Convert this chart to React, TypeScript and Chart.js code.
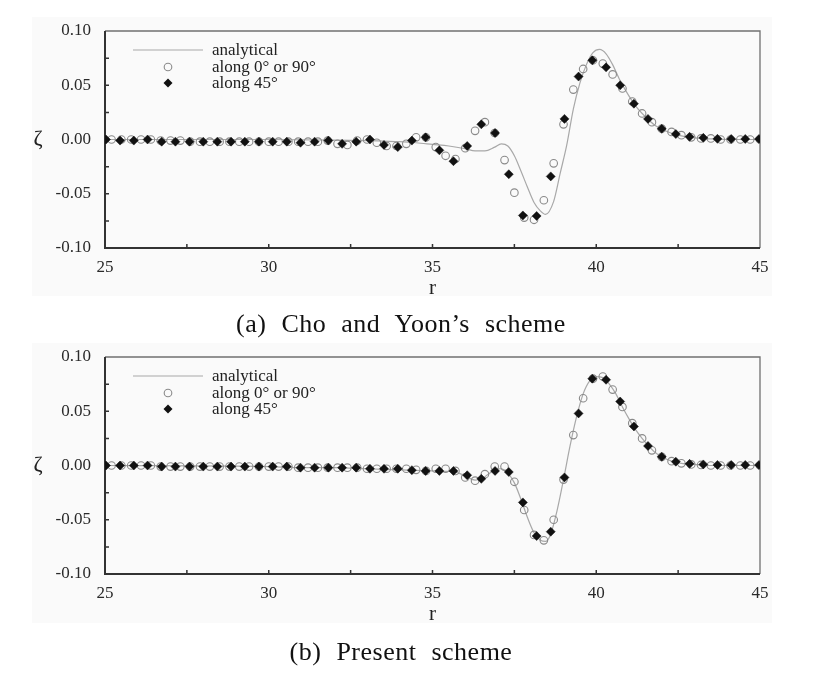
import React, { useEffect, useRef } from 'react';
import { Chart, registerables } from 'chart.js';

Chart.register(...registerables);

const FONT = "'Liberation Serif', 'Times New Roman', serif";

// ---------- shared sample positions ----------
// along 0° / 90° sample radii
const rAlong0 = [
  25.2, 25.5, 25.8, 26.1, 26.4, 26.7, 27.0, 27.3, 27.6, 27.9,
  28.2, 28.5, 28.8, 29.1, 29.4, 29.7, 30.0, 30.3, 30.6, 30.9,
  31.2, 31.5, 31.8, 32.1, 32.4, 32.7, 33.0, 33.3, 33.6, 33.9,
  34.2, 34.5, 34.8, 35.1, 35.4, 35.7, 36.0, 36.3, 36.6, 36.9,
  37.2, 37.5, 37.8, 38.1, 38.4, 38.7, 39.0, 39.3, 39.6, 39.9,
  40.2, 40.5, 40.8, 41.1, 41.4, 41.7, 42.0, 42.3, 42.6, 42.9,
  43.2, 43.5, 43.8, 44.1, 44.4, 44.7, 45.0,
];
// along 45° sample radii
const rAlong45 = [
  25.03, 25.46, 25.88, 26.30, 26.73, 27.15, 27.58, 28.00, 28.43, 28.85,
  29.27, 29.70, 30.12, 30.55, 30.97, 31.40, 31.82, 32.24, 32.67, 33.09,
  33.52, 33.94, 34.37, 34.79, 35.21, 35.64, 36.06, 36.49, 36.91, 37.33,
  37.76, 38.18, 38.61, 39.03, 39.46, 39.88, 40.30, 40.73, 41.15, 41.58,
  42.00, 42.43, 42.85, 43.27, 43.70, 44.12, 44.55, 44.97,
];

// ---------- (a) Cho and Yoon's scheme ----------
const rAnalyticalA = [
  25, 30, 32, 33, 33.5, 34, 34.5, 35, 35.5, 36,
  36.3, 36.6, 36.9, 37.1, 37.3, 37.5, 37.7, 37.9, 38.1, 38.3,
  38.45, 38.7, 38.9, 39.1, 39.3, 39.5, 39.7, 39.9, 40.1, 40.3,
  40.5, 40.7, 40.9, 41.2, 41.5, 41.8, 42.1, 42.5, 43, 43.5,
  44, 45,
];
const zetaAnalyticalA = [
  0, 0, -0.0005, -0.001, -0.0015, -0.002, -0.003, -0.0045, -0.006, -0.0085,
  -0.0105, -0.0105, -0.007, -0.004, -0.006, -0.015, -0.029, -0.044, -0.058, -0.066,
  -0.069, -0.057, -0.031, -0.005, 0.028, 0.052, 0.069, 0.080, 0.083, 0.079,
  0.069, 0.056, 0.045, 0.031, 0.021, 0.013, 0.008, 0.004, 0.0015, 0.0005,
  0, 0,
];
const zetaAlong0A = [
  0, 0, 0, 0, 0, -0.001, -0.001, -0.001, -0.002, -0.002,
  -0.002, -0.002, -0.002, -0.002, -0.002, -0.002, -0.002, -0.002, -0.002, -0.002,
  -0.002, -0.002, -0.001, -0.004, -0.005, -0.001, 0, -0.003, -0.006, -0.006,
  -0.004, 0.002, 0.002, -0.007, -0.015, -0.018, -0.008, 0.008, 0.016, 0.006,
  -0.019, -0.049, -0.072, -0.074, -0.056, -0.022, 0.014, 0.046, 0.065, 0.073,
  0.070, 0.060, 0.047, 0.035, 0.024, 0.016, 0.010, 0.007, 0.004, 0.002,
  0.001, 0.001, 0, 0, 0, 0, 0,
];
const zetaAlong45A = [
  0, -0.001, -0.001, 0, -0.002, -0.002, -0.002, -0.002, -0.002, -0.002,
  -0.002, -0.002, -0.002, -0.002, -0.003, -0.002, -0.001, -0.004, -0.002, 0,
  -0.005, -0.007, -0.001, 0.002, -0.010, -0.020, -0.006, 0.014, 0.006, -0.032,
  -0.070, -0.0705, -0.034, 0.019, 0.058, 0.073, 0.0665, 0.050, 0.033, 0.019,
  0.0098, 0.005, 0.0025, 0.0015, 0.0006, 0.0005, 0.0005, 0.0005,
];

// ---------- (b) Present scheme ----------
const rAnalyticalB = [
  25, 30, 31, 32, 33, 34, 34.5, 35, 35.5, 35.8,
  36.0, 36.3, 36.5, 36.7, 36.9, 37.1, 37.3, 37.5, 37.7, 37.9,
  38.1, 38.3, 38.45, 38.6, 38.8, 39.0, 39.2, 39.4, 39.6, 39.8,
  40.0, 40.2, 40.4, 40.6, 40.8, 41.0, 41.2, 41.4, 41.6, 41.8,
  42.0, 42.3, 42.6, 43, 43.5, 45,
];
const zetaAnalyticalB = [
  0, -0.001, -0.002, -0.002, -0.003, -0.004, -0.0045, -0.005, -0.0055, -0.007,
  -0.0095, -0.0135, -0.0125, -0.008, -0.004, -0.003, -0.007, -0.016, -0.031, -0.048,
  -0.062, -0.069, -0.070, -0.064, -0.042, -0.013, 0.018, 0.045, 0.066, 0.078,
  0.082, 0.081, 0.075, 0.066, 0.054, 0.043, 0.033, 0.025, 0.018, 0.012,
  0.008, 0.004, 0.002, 0.001, 0, 0,
];
const zetaAlong0B = [
  0, 0, 0, 0, 0, -0.001, -0.001, -0.001, -0.001, -0.001,
  -0.001, -0.001, -0.001, -0.001, -0.001, -0.001, -0.001, -0.001, -0.001, -0.002,
  -0.002, -0.002, -0.002, -0.002, -0.002, -0.002, -0.003, -0.003, -0.003, -0.003,
  -0.003, -0.004, -0.005, -0.003, -0.003, -0.005, -0.011, -0.014, -0.008, -0.001,
  -0.001, -0.015, -0.041, -0.064, -0.069, -0.050, -0.013, 0.028, 0.062, 0.080,
  0.082, 0.070, 0.054, 0.039, 0.025, 0.014, 0.008, 0.004, 0.002, 0.001,
  0.0005, 0, 0, 0, 0, 0, 0,
];
const zetaAlong45B = [
  0, 0, 0, 0, -0.001, -0.001, -0.001, -0.001, -0.001, -0.001,
  -0.001, -0.001, -0.001, -0.001, -0.002, -0.002, -0.002, -0.002, -0.002, -0.003,
  -0.003, -0.003, -0.0043, -0.005, -0.005, -0.005, -0.009, -0.0123, -0.005, -0.006,
  -0.034, -0.065, -0.061, -0.011, 0.048, 0.080, 0.079, 0.059, 0.036, 0.018,
  0.008, 0.0035, 0.0015, 0.001, 0.0005, 0.0005, 0.0005, 0.0005,
];

// ---------- axes / legend text ----------
const xMin = 25, xMax = 45, xStep = 2.5, xLabelEvery = 5;
const yMin = -0.1, yMax = 0.1, yStep = 0.025;
const legendLabels = ['analytical', 'along 0\u00b0 or 90\u00b0', 'along 45\u00b0'];
const xTitle = 'r';
const yTitle = '\u03b6';
const captionA = '(a) Cho and Yoon\u2019s scheme';
const captionB = '(b) Present scheme';

const LINE_COLOR = '#a8a8a8';
const OPEN_COLOR = '#8a8a8a';
const FILL_COLOR = '#111';

const decoPlugin = {
  id: 'deco',
  beforeDatasetsDraw(chart: any) {
    const { ctx, chartArea: ca, scales } = chart;
    const x = scales.x;
    const y = scales.y;
    ctx.save();
    ctx.strokeStyle = '#707070';
    ctx.lineWidth = 1.3;
    ctx.beginPath();
    ctx.moveTo(ca.left, ca.top);
    ctx.lineTo(ca.right, ca.top);
    ctx.lineTo(ca.right, ca.bottom);
    ctx.stroke();
    ctx.strokeStyle = '#333';
    ctx.lineWidth = 2;
    ctx.beginPath();
    ctx.moveTo(ca.left, ca.top);
    ctx.lineTo(ca.left, ca.bottom);
    ctx.lineTo(ca.right, ca.bottom);
    ctx.stroke();
    ctx.lineWidth = 1.5;
    ctx.beginPath();
    x.ticks.forEach((_: any, i: number) => {
      const p = x.getPixelForTick(i);
      if (p > ca.left + 2 && p < ca.right - 2) {
        ctx.moveTo(p, ca.bottom);
        ctx.lineTo(p, ca.bottom - 4);
      }
    });
    y.ticks.forEach((_: any, i: number) => {
      const p = y.getPixelForTick(i);
      if (p > ca.top + 2 && p < ca.bottom - 2) {
        ctx.moveTo(ca.left, p);
        ctx.lineTo(ca.left + 4, p);
      }
    });
    ctx.stroke();
    ctx.restore();
  },
  afterDatasetsDraw(chart: any) {
    const { ctx, chartArea: ca } = chart;
    ctx.save();
    ctx.fillStyle = '#222';
    ctx.textAlign = 'center';
    ctx.textBaseline = 'middle';
    ctx.font = `21px ${FONT}`;
    ctx.fillText(xTitle, (ca.left + ca.right) / 2, ca.bottom + 40);
    ctx.font = `22px ${FONT}`;
    ctx.fillText(yTitle, 38, (ca.top + ca.bottom) / 2);

    const lx = ca.left;
    const rows = [ca.top + 19, ca.top + 36, ca.top + 52];
    ctx.strokeStyle = LINE_COLOR;
    ctx.lineWidth = 1.2;
    ctx.beginPath();
    ctx.moveTo(lx + 28, rows[0]);
    ctx.lineTo(lx + 98, rows[0]);
    ctx.stroke();
    ctx.strokeStyle = OPEN_COLOR;
    ctx.lineWidth = 1.1;
    ctx.beginPath();
    ctx.arc(lx + 63, rows[1], 3.8, 0, Math.PI * 2);
    ctx.stroke();
    ctx.fillStyle = FILL_COLOR;
    ctx.beginPath();
    ctx.moveTo(lx + 63, rows[2] - 4.5);
    ctx.lineTo(lx + 67.5, rows[2]);
    ctx.lineTo(lx + 63, rows[2] + 4.5);
    ctx.lineTo(lx + 58.5, rows[2]);
    ctx.closePath();
    ctx.fill();
    ctx.fillStyle = '#222';
    ctx.textAlign = 'left';
    ctx.textBaseline = 'middle';
    ctx.font = `17px ${FONT}`;
    legendLabels.forEach((t, i) => ctx.fillText(t, lx + 107, rows[i] + 1));
    ctx.restore();
  },
};

function makeConfig(
  rLine: number[], zLine: number[],
  r0: number[], z0: number[],
  r45: number[], z45: number[],
): any {
  const pts = (rs: number[], zs: number[]) => rs.map((r, i) => ({ x: r, y: zs[i] }));
  return {
    type: 'scatter',
    data: {
      datasets: [
        {
          label: legendLabels[0],
          data: pts(rLine, zLine),
          showLine: true,
          borderColor: LINE_COLOR,
          borderWidth: 1.2,
          pointRadius: 0,
          cubicInterpolationMode: 'monotone',
          order: 3,
        },
        {
          label: legendLabels[1],
          data: pts(r0, z0),
          pointStyle: 'circle',
          pointRadius: 3.8,
          borderColor: OPEN_COLOR,
          borderWidth: 1.1,
          backgroundColor: 'rgba(255,255,255,0)',
          order: 2,
        },
        {
          label: legendLabels[2],
          data: pts(r45, z45),
          pointStyle: 'rectRot',
          pointRadius: 4.5,
          borderColor: FILL_COLOR,
          borderWidth: 0.5,
          backgroundColor: FILL_COLOR,
          order: 1,
        },
      ],
    },
    options: {
      responsive: false,
      animation: false,
      events: [],
      layout: { padding: { left: 0, right: 57, top: 31, bottom: 49 } },
      plugins: { legend: { display: false }, tooltip: { enabled: false } },
      scales: {
        x: {
          type: 'linear',
          min: xMin,
          max: xMax,
          grid: { display: false, drawTicks: false },
          border: { display: false },
          afterFit: (s: any) => { s.height = 40; },
          ticks: {
            stepSize: xStep,
            autoSkip: false,
            maxRotation: 0,
            padding: 9,
            color: '#2a2a2a',
            font: { family: FONT, size: 17 },
            callback: (v: number) => (Math.abs(v / xLabelEvery - Math.round(v / xLabelEvery)) < 1e-6 ? String(Math.round(v)) : ''),
          },
        },
        y: {
          type: 'linear',
          min: yMin,
          max: yMax,
          grid: { display: false, drawTicks: false },
          border: { display: false },
          afterFit: (s: any) => { s.width = 105; },
          ticks: {
            stepSize: yStep,
            autoSkip: false,
            padding: 14,
            color: '#2a2a2a',
            font: { family: FONT, size: 17 },
            callback: (v: number) => {
              const m = Math.round(v * 1000);
              if (m % 50 !== 0) return '';
              if (m === 0) return '0.00';
              return (m / 1000).toFixed(2);
            },
          },
        },
      },
    },
    plugins: [decoPlugin],
  };
}

function Panel({ top, config }: { top: number; config: () => any }) {
  const ref = useRef<HTMLCanvasElement | null>(null);
  useEffect(() => {
    if (!ref.current) return;
    const chart = new Chart(ref.current, config());
    return () => chart.destroy();
  }, []);
  return (
    <canvas
      ref={ref}
      width={817}
      height={337}
      style={{ position: 'absolute', left: 0, top, width: 817, height: 337 }}
    />
  );
}

const captionStyle: React.CSSProperties = {
  position: 'absolute',
  left: 0,
  width: 802,
  textAlign: 'center',
  fontFamily: FONT,
  fontSize: 26,
  lineHeight: '30px',
  letterSpacing: 0.5,
  wordSpacing: 8,
  color: '#111',
  whiteSpace: 'nowrap',
};

export default function App() {
  return (
    <div style={{ position: 'fixed', left: 0, top: 0, width: 817, height: 674, background: '#fff', overflow: 'hidden' }}>
      <div style={{ position: 'absolute', left: 32, top: 17, width: 740, height: 279, background: '#fafafa' }} />
      <div style={{ position: 'absolute', left: 32, top: 343, width: 740, height: 280, background: '#fafafa' }} />
      <Panel top={0} config={() => makeConfig(rAnalyticalA, zetaAnalyticalA, rAlong0, zetaAlong0A, rAlong45, zetaAlong45A)} />
      <Panel top={326} config={() => makeConfig(rAnalyticalB, zetaAnalyticalB, rAlong0, zetaAlong0B, rAlong45, zetaAlong45B)} />
      <div style={{ ...captionStyle, top: 309 }}>{captionA}</div>
      <div style={{ ...captionStyle, top: 637 }}>{captionB}</div>
    </div>
  );
}
